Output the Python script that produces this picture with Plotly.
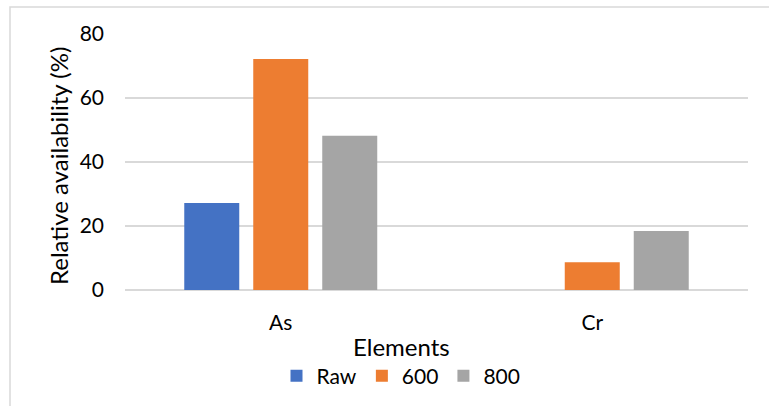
import plotly.graph_objects as go

# Relative availability of elements after treatment
elements = ["As", "Cr"]
series_names = ["Raw", "600", "800"]
raw_vals = [27.2, 0]
t600_vals = [72.2, 8.7]
t800_vals = [48.2, 18.4]
colors = ["#4472C4", "#ED7D31", "#A5A5A5"]
y_ticks = [0, 20, 40, 60, 80]

FONT = "Lato"
W, H = 769, 406
L, R, T, B = 125, 21, 34, 116
pw, ph = W - L - R, H - T - B

fig = go.Figure()
for name, vals, col in zip(series_names, [raw_vals, t600_vals, t800_vals], colors):
    fig.add_trace(go.Bar(name=name, x=elements, y=vals, marker=dict(color=col, line=dict(width=0))))


def px_x(v):
    return (v - L) / pw


def px_y(v):
    return (H - B - v) / ph


fig.update_layout(
    width=W, height=H,
    margin=dict(l=L, r=R, t=T, b=B, autoexpand=False),
    paper_bgcolor="white", plot_bgcolor="white",
    font=dict(family=FONT, size=21, color="#000000"),
    barmode="group", bargap=0.3355, bargroupgap=0.203,
    showlegend=True,
    legend=dict(orientation="h", xref="container", yref="container",
                x=401 / W, xanchor="center", y=1 - 376 / H, yanchor="middle",
                font=dict(size=21), itemwidth=30, traceorder="normal",
                bgcolor="rgba(0,0,0,0)"),
    xaxis=dict(showgrid=False, showline=False, ticks="", ticklabelstandoff=18, automargin=False),
    yaxis=dict(range=[0, 80], tickvals=y_ticks, showgrid=True, gridcolor="#D9D9D9", gridwidth=1.5,
               zeroline=True, zerolinecolor="#D9D9D9", zerolinewidth=1.5, showline=False,
               ticks="", ticklabelstandoff=20, automargin=False),
    annotations=[
        dict(text="Elements", xref="paper", yref="paper", x=px_x(401), y=px_y(346),
             xanchor="center", yanchor="middle", showarrow=False, font=dict(size=24)),
        dict(text="Relative availability (%)", xref="paper", yref="paper", x=px_x(58), y=px_y(166),
             xanchor="center", yanchor="middle", textangle=-90, showarrow=False, font=dict(size=24)),
    ],
    shapes=[dict(type="rect", xref="paper", yref="paper",
                 x0=px_x(10), x1=px_x(780), y0=px_y(420), y1=px_y(7),
                 line=dict(color="#D9D9D9", width=1.5), layer="below")],
)

fig.write_html("out.html")
